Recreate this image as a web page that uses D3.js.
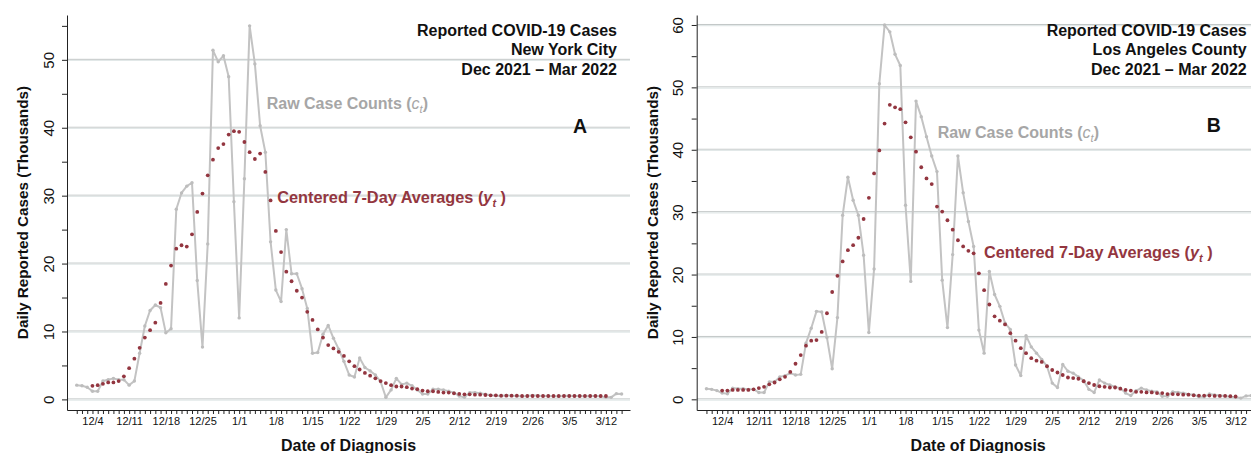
<!DOCTYPE html>
<html><head><meta charset="utf-8">
<script src="https://cdn.jsdelivr.net/npm/d3@7"></script>
<style>
body{margin:0;background:#fff}
text{font-family:"Liberation Sans",Arial,Helvetica,sans-serif}
</style>
</head><body>
<svg id="chart" width="1251" height="453"></svg>
<script>
// ---------- DATA ----------
const startDate = "2021-12-01";   // first day of raw counts (12/1/2021 .. 3/15/2022)
const avgStartOffset = 3;         // centered 7-day averages start 12/4
const tickLabels = ["12/4","12/11","12/18","12/25","1/1","1/8","1/15","1/22","1/29","2/5","2/12","2/19","2/26","3/5","3/12"];

const nycRaw = [2.1,2.0,1.8,1.2,1.2,2.7,2.9,3.1,2.9,2.9,
 2.1,2.7,6.8,10.8,13.1,13.9,13.5,9.8,10.4,28.0,
 30.4,31.4,31.9,17.5,7.7,22.9,51.4,49.7,50.6,47.5,
 29.1,12.0,32.5,55.0,49.4,40.3,36.4,23.2,16.1,14.4,
 25.0,18.5,18.5,16.3,13.4,6.8,6.9,9.6,10.9,9.0,
 7.4,5.6,3.6,3.3,6.1,4.7,4.2,3.6,2.6,0.3,
 1.4,3.1,2.2,2.4,2.0,1.4,0.8,0.8,1.5,1.5,
 1.4,1.2,1.0,0.5,0.3,1.0,1.0,0.9,0.75,0.6,
 0.55,0.5,0.6,0.55,0.5,0.45,0.5,0.6,0.55,0.5,
 0.5,0.45,0.45,0.5,0.55,0.5,0.5,0.45,0.5,0.5,
 0.45,0.3,0.3,0.85,0.8];
const nycAvg = [2.0,2.1,2.3,2.5,2.5,2.7,3.4,4.6,6.0,7.6,
 9.1,10.2,11.3,14.2,17.0,19.7,22.2,22.7,22.5,24.3,
 27.6,30.3,33.0,35.3,37.0,37.6,39.0,39.5,39.4,37.9,
 36.4,35.4,36.2,33.5,29.3,24.8,21.7,18.8,17.4,16.0,
 15.0,12.9,11.7,10.3,9.1,8.0,7.5,7.0,6.4,5.6,
 4.9,4.4,3.9,3.5,3.1,2.7,2.4,2.1,1.9,1.9,
 1.8,1.6,1.5,1.3,1.2,1.2,1.1,1.0,1.0,0.9,
 0.8,0.75,0.75,0.7,0.7,0.65,0.6,0.6,0.55,0.55,
 0.55,0.55,0.5,0.5,0.5,0.5,0.5,0.5,0.5,0.5,
 0.5,0.5,0.5,0.5,0.5,0.5,0.5,0.5,0.5];
const laRaw = [1.7,1.6,1.4,1.0,0.9,1.8,1.7,1.7,1.6,1.6,
 1.1,1.1,2.8,2.8,3.6,3.8,4.2,3.9,4.0,9.0,
 11.4,14.1,14.0,9.9,4.9,13.1,29.5,35.6,31.9,29.5,
 23.1,10.7,20.9,50.6,60.0,58.9,55.3,53.5,31.1,18.9,
 47.8,45.3,42.1,39.0,36.5,19.1,11.5,23.2,39.0,33.1,
 28.5,24.5,11.1,7.4,20.5,16.8,14.9,12.2,11.2,5.5,
 3.8,10.2,8.4,7.4,6.4,5.3,2.6,1.9,5.6,4.5,
 4.2,3.6,3.0,1.6,1.1,3.1,2.6,2.3,2.0,1.8,
 1.0,0.6,1.4,1.8,1.5,1.3,1.2,0.5,0.5,1.2,
 1.1,1.0,0.8,0.75,0.4,0.4,0.85,0.7,0.6,0.55,
 0.4,0.35,0.2,0.55,0.6];
const laAvg = [1.4,1.4,1.5,1.5,1.5,1.5,1.6,1.8,2.0,2.4,
 2.7,3.2,3.6,4.4,5.7,7.1,8.6,9.4,9.5,10.8,
 13.8,17.2,19.8,22.1,23.9,24.7,25.9,28.9,32.3,36.2,
 39.9,44.2,47.2,46.8,46.5,44.4,42.0,39.7,37.2,35.4,
 34.5,30.9,30.1,28.7,27.2,25.5,24.5,23.8,23.4,20.2,
 17.5,15.2,13.3,12.6,12.0,10.6,9.4,8.2,7.4,6.6,
 6.2,6.0,5.3,4.7,4.3,3.9,3.5,3.4,3.3,2.9,
 2.6,2.3,2.1,2.0,1.9,1.9,1.7,1.5,1.4,1.2,
 1.2,1.1,1.1,1.0,1.0,0.85,0.85,0.8,0.75,0.75,
 0.65,0.6,0.6,0.6,0.55,0.55,0.55,0.5,0.45];

const nycTitle = ["Reported COVID-19 Cases","New York City","Dec 2021 \u2013 Mar 2022"];
const laTitle  = ["Reported COVID-19 Cases","Los Angeles County","Dec 2021 \u2013 Mar 2022"];
const nycYTicks = [0,10,20,30,40,50];
const laYTicks  = [0,10,20,30,40,50,60];

// ---------- DRAW ----------
const svg = d3.select("#chart");
const DAY = 864e5;
const t0 = new Date(startDate + "T00:00:00Z");
const parseLabel = s => { const [m,d] = s.split("/").map(Number); return new Date(Date.UTC(m===12?2021:2022, m-1, d)); };
const labelTimes = tickLabels.map(s => +parseLabel(s));
const GRAY = "#c3c3c3", RED = "#933640";

function drawPanel(off, raw, avg, yDom, yTicks, title, letter, rawPos, avgPos){
  const g = svg.append("g").attr("transform", `translate(${off},0)`);
  const dates = raw.map((v,i) => new Date(+t0 + i*DAY));
  const x = d3.scaleUtc().domain([new Date(+t0 - 1.86*DAY), new Date(+t0 + 105.6*DAY)]).range([67, 630]);
  const y = d3.scaleLinear().domain(yDom).range([410, 15]);

  // grid
  yTicks.forEach(v => {
    g.append("line").attr("x1",67).attr("x2",630).attr("y1",y(v)-0.5).attr("y2",y(v)-0.5)
      .attr("stroke","#c2c7c7").attr("stroke-width",1);
    g.append("line").attr("x1",67).attr("x2",630).attr("y1",y(v)+0.7).attr("y2",y(v)+0.7)
      .attr("stroke","#e2e8e8").attr("stroke-width",1.2);
  });

  // raw line + points
  const rawData = raw.map((v,i) => ({d:dates[i], v}));
  g.append("path").datum(rawData)
    .attr("fill","none").attr("stroke",GRAY).attr("stroke-width",2).attr("stroke-linejoin","round")
    .attr("d", d3.line().x(p => x(p.d)).y(p => y(p.v)));
  g.selectAll(".rp").data(rawData).enter().append("circle")
    .attr("cx", p => x(p.d)).attr("cy", p => y(p.v)).attr("r",1.7).attr("fill","#bdbdbd");

  // averages
  const avgData = avg.map((v,i) => ({d:dates[i+avgStartOffset], v}));
  g.selectAll(".ap").data(avgData).enter().append("circle")
    .attr("cx", p => x(p.d)).attr("cy", p => y(p.v)).attr("r",1.9).attr("fill",RED);

  // axes
  const xa = g.append("g").attr("transform","translate(0,410)")
    .call(d3.axisBottom(x).tickValues(dates).tickSizeInner(4).tickSizeOuter(0).tickPadding(3)
      .tickFormat(d => { const k = labelTimes.indexOf(+d); return k >= 0 ? tickLabels[k] : ""; }));
  xa.selectAll("text").attr("font-size",11).attr("fill","#111").style("font-family",'"Liberation Sans",Arial,sans-serif');
  xa.selectAll("line,path").attr("stroke","#222");

  const minor = d3.range(0, yTicks[yTicks.length-1]+5.1, 5);
  const ya = g.append("g").attr("transform","translate(67,0)")
    .call(d3.axisLeft(y).tickValues(minor).tickSizeInner(5).tickSizeOuter(0)
      .tickFormat(v => yTicks.includes(v) ? v : ""));
  ya.selectAll("line,path").attr("stroke","#222");
  ya.selectAll("text").attr("x",0).attr("dy",0).attr("text-anchor","middle")
    .attr("transform","translate(-13.5,0) rotate(-90)")
    .attr("font-size",15).attr("fill","#111").style("font-family",'"Liberation Sans",Arial,sans-serif');

  // axis titles
  g.append("text").attr("transform","translate(28,212.5) rotate(-90)").attr("text-anchor","middle")
    .attr("font-size",15.3).attr("font-weight","bold").attr("fill","#111").text("Daily Reported Cases (Thousands)");
  g.append("text").attr("x",348.5).attr("y",450.5).attr("text-anchor","middle")
    .attr("font-size",16).attr("font-weight","bold").attr("fill","#111").text("Date of Diagnosis");

  // title block
  title.forEach((s,i) => g.append("text").attr("x",617).attr("y",35.5 + i*19.7).attr("text-anchor","end")
    .attr("font-size",16).attr("font-weight","bold").attr("fill","#111").text(s));
  g.append("text").attr("x",letter.x).attr("y",letter.y).attr("text-anchor","middle")
    .attr("font-size",19.5).attr("font-weight","bold").attr("fill","#111").text(letter.t);

  // series labels
  const rl = g.append("text").attr("x",rawPos[0]).attr("y",rawPos[1]).attr("font-size",16)
    .attr("font-weight","bold").attr("fill","#a6a6a6");
  rl.append("tspan").text("Raw Case Counts (");
  rl.append("tspan").attr("font-style","italic").attr("font-weight","normal").text("c");
  rl.append("tspan").attr("font-style","italic").attr("font-weight","normal").attr("font-size",11).attr("dy",4).text("t");
  rl.append("tspan").attr("dy",-4).text(")");

  const al = g.append("text").attr("x",avgPos[0]).attr("y",avgPos[1]).attr("font-size",16.3)
    .attr("font-weight","bold").attr("fill",RED);
  al.append("tspan").text("Centered 7-Day Averages (");
  al.append("tspan").attr("font-style","italic").text("y");
  al.append("tspan").attr("font-style","italic").attr("font-size",11).attr("dy",4).text("t");
  al.append("tspan").attr("dy",-4).text(" )");
}

drawPanel(0, nycRaw, nycAvg, [-1.56, 56.6], nycYTicks, nycTitle, {t:"A", x:580, y:132.7}, [266.7,109.3], [277.3,203.3]);
drawPanel(629.7, laRaw, laAvg, [-1.71, 61.6], laYTicks, laTitle, {t:"B", x:584, y:132.3}, [308,138.3], [354.3,257.7]);
</script>
</body></html>
